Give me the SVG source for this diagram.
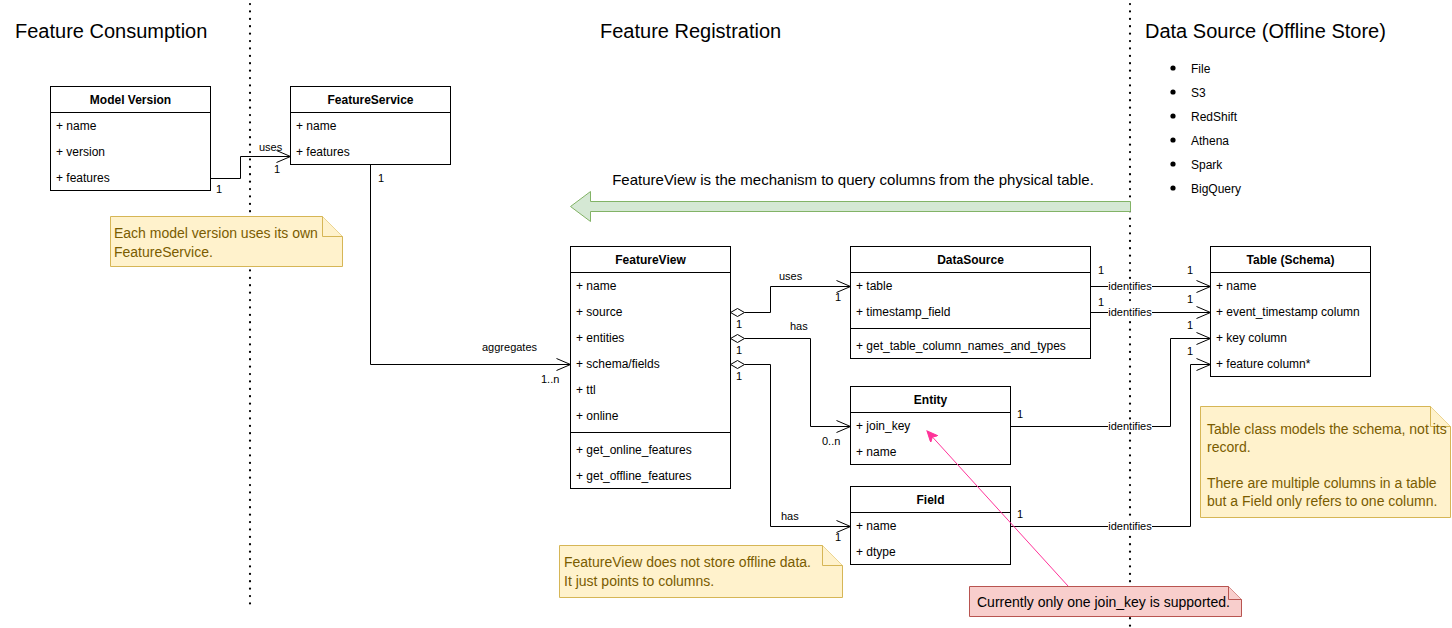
<svg xmlns="http://www.w3.org/2000/svg" width="1452" height="628" viewBox="0 0 1452 628">
<defs>
<style>
text{font-family:"Liberation Sans",Helvetica,Arial,sans-serif;fill:#000}
.title{font-size:20px}
.hdr{font-size:12px;font-weight:bold;text-anchor:middle}
.row{font-size:12px}
.lbl{font-size:11px}
.mid{text-anchor:middle}
.box{fill:#fff;stroke:#000;stroke-width:1}
.sep{stroke:#000;stroke-width:1}
.conn{fill:none;stroke:#000;stroke-width:1}
.dot{fill:none;stroke:#000;stroke-width:2.2;stroke-dasharray:0.1 7.3;stroke-linecap:round}
.note{fill:#fff2cc;stroke:#d6b656;stroke-width:1}
.notetxt{font-size:14px;fill:#7a5c00}
.rnote{fill:#f8cecc;stroke:#b85450;stroke-width:1}
.dia{fill:#fff;stroke:#000;stroke-width:1}
.lblbg{fill:#fff}
</style>
<marker id="open" markerUnits="userSpaceOnUse" markerWidth="16" markerHeight="14" refX="15" refY="7" orient="auto">
<path d="M1,1 L15,7 L1,13" fill="none" stroke="#000" stroke-width="1"/>
</marker>
<marker id="pink" markerUnits="userSpaceOnUse" markerWidth="12" markerHeight="10" refX="11" refY="5" orient="auto">
<path d="M0,0 L11,5 L0,10 L3,5 Z" fill="#ff3399" stroke="#ff3399" stroke-width="1"/>
</marker>
</defs>
<rect width="1452" height="628" fill="#fff"/>

<g id="titles">
<text class="title" x="15" y="38">Feature Consumption</text>
<text class="title" x="600" y="38">Feature Registration</text>
<text class="title" x="1145" y="38">Data Source (Offline Store)</text>
</g>

<g id="dividers">
<line class="dot" x1="250" y1="4" x2="250" y2="608"/>
<line class="dot" x1="1130" y1="4" x2="1130" y2="626"/>
</g>

<g id="sources-list">
<circle cx="1173" cy="68" r="2.6"/><text class="row" x="1191" y="73">File</text>
<circle cx="1173" cy="92" r="2.6"/><text class="row" x="1191" y="97">S3</text>
<circle cx="1173" cy="116" r="2.6"/><text class="row" x="1191" y="121">RedShift</text>
<circle cx="1173" cy="140" r="2.6"/><text class="row" x="1191" y="145">Athena</text>
<circle cx="1173" cy="164" r="2.6"/><text class="row" x="1191" y="169">Spark</text>
<circle cx="1173" cy="188" r="2.6"/><text class="row" x="1191" y="193">BigQuery</text>
</g>

<g id="mechanism-arrow">
<path d="M1130.5,201.5 L590.5,201.5 L590.5,191.5 L570.5,206.5 L590.5,221.5 L590.5,211.5 L1130.5,211.5 Z" fill="#d5e8d4" stroke="#82b366" stroke-width="1"/>
<text x="853" y="185" font-size="15" text-anchor="middle">FeatureView is the mechanism to query columns from the physical table.</text>
</g>

<g id="connectors">
<path class="conn" d="M210.5,178.5 H240.5 V156.5 H290.5" marker-end="url(#open)"/>
<text class="lbl" x="259" y="151">uses</text>
<text class="lbl" x="274" y="173">1</text>
<text class="lbl" x="216" y="193">1</text>
<path class="conn" d="M370.5,164 V364.5 H570.5" marker-end="url(#open)"/>
<text class="lbl" x="378" y="182">1</text>
<text class="lbl" x="482" y="351">aggregates</text>
<text class="lbl" x="541" y="383">1..n</text>
<path class="conn" d="M744.5,312.5 H770.5 V286.5 H850.5" marker-end="url(#open)"/>
<polygon class="dia" points="730.5,312.5 737.5,308.5 744.5,312.5 737.5,316.5"/>
<text class="lbl" x="779" y="280">uses</text>
<text class="lbl" x="835" y="301">1</text>
<text class="lbl" x="736" y="328">1</text>
<path class="conn" d="M744.5,338.5 H810.5 V426.5 H850.5" marker-end="url(#open)"/>
<polygon class="dia" points="730.5,338.5 737.5,334.5 744.5,338.5 737.5,342.5"/>
<text class="lbl" x="790" y="330">has</text>
<text class="lbl" x="736" y="354">1</text>
<text class="lbl" x="822" y="445">0..n</text>
<path class="conn" d="M744.5,364.5 H770.5 V526.5 H850.5" marker-end="url(#open)"/>
<polygon class="dia" points="730.5,364.5 737.5,360.5 744.5,364.5 737.5,368.5"/>
<text class="lbl" x="736" y="380">1</text>
<text class="lbl" x="781" y="520">has</text>
<text class="lbl" x="835" y="541">1</text>
<path class="conn" d="M1090.5,286.5 H1210.5" marker-end="url(#open)"/>
<rect class="lblbg" x="1108" y="280" width="44" height="12"/>
<text class="lbl mid" x="1130" y="290">identifies</text>
<text class="lbl" x="1098" y="274">1</text>
<text class="lbl" x="1187" y="274">1</text>
<path class="conn" d="M1090.5,312.5 H1210.5" marker-end="url(#open)"/>
<rect class="lblbg" x="1108" y="306" width="44" height="12"/>
<text class="lbl mid" x="1130" y="316">identifies</text>
<text class="lbl" x="1098" y="306">1</text>
<text class="lbl" x="1187" y="303">1</text>
<path class="conn" d="M1010.5,426.5 H1170.5 V338.5 H1210.5" marker-end="url(#open)"/>
<rect class="lblbg" x="1108" y="420" width="44" height="12"/>
<text class="lbl mid" x="1130" y="430">identifies</text>
<text class="lbl" x="1017" y="418">1</text>
<text class="lbl" x="1187" y="329">1</text>
<path class="conn" d="M1010.5,526.5 H1190.5 V364.5 H1210.5" marker-end="url(#open)"/>
<rect class="lblbg" x="1108" y="520" width="44" height="12"/>
<text class="lbl mid" x="1130" y="530">identifies</text>
<text class="lbl" x="1017" y="518">1</text>
<text class="lbl" x="1187" y="355">1</text>
</g>

<g id="model-version">
<rect class="box" x="50.5" y="86.5" width="160" height="104"/>
<line class="sep" x1="50.5" y1="112.5" x2="210.5" y2="112.5"/>
<text class="hdr" x="130.5" y="104">Model Version</text>
<text class="row" x="56" y="130">+ name</text>
<text class="row" x="56" y="156">+ version</text>
<text class="row" x="56" y="182">+ features</text>
</g>

<g id="feature-service">
<rect class="box" x="290.5" y="86.5" width="160" height="78"/>
<line class="sep" x1="290.5" y1="112.5" x2="450.5" y2="112.5"/>
<text class="hdr" x="370.5" y="104">FeatureService</text>
<text class="row" x="296" y="130">+ name</text>
<text class="row" x="296" y="156">+ features</text>
</g>

<g id="feature-view">
<rect class="box" x="570.5" y="246.5" width="160" height="242"/>
<line class="sep" x1="570.5" y1="272.5" x2="730.5" y2="272.5"/>
<line class="sep" x1="570.5" y1="432.5" x2="730.5" y2="432.5"/>
<text class="hdr" x="650.5" y="264">FeatureView</text>
<text class="row" x="576" y="290">+ name</text>
<text class="row" x="576" y="316">+ source</text>
<text class="row" x="576" y="342">+ entities</text>
<text class="row" x="576" y="368">+ schema/fields</text>
<text class="row" x="576" y="394">+ ttl</text>
<text class="row" x="576" y="420">+ online</text>
<text class="row" x="576" y="454">+ get_online_features</text>
<text class="row" x="576" y="480">+ get_offline_features</text>
</g>

<g id="data-source">
<rect class="box" x="850.5" y="246.5" width="240" height="112"/>
<line class="sep" x1="850.5" y1="272.5" x2="1090.5" y2="272.5"/>
<line class="sep" x1="850.5" y1="328.5" x2="1090.5" y2="328.5"/>
<text class="hdr" x="970.5" y="264">DataSource</text>
<text class="row" x="856" y="290">+ table</text>
<text class="row" x="856" y="316">+ timestamp_field</text>
<text class="row" x="856" y="350">+ get_table_column_names_and_types</text>
</g>

<g id="entity">
<rect class="box" x="850.5" y="386.5" width="160" height="78"/>
<line class="sep" x1="850.5" y1="412.5" x2="1010.5" y2="412.5"/>
<text class="hdr" x="930.5" y="404">Entity</text>
<text class="row" x="856" y="430">+ join_key</text>
<text class="row" x="856" y="456">+ name</text>
</g>

<g id="field">
<rect class="box" x="850.5" y="486.5" width="160" height="78"/>
<line class="sep" x1="850.5" y1="512.5" x2="1010.5" y2="512.5"/>
<text class="hdr" x="930.5" y="504">Field</text>
<text class="row" x="856" y="530">+ name</text>
<text class="row" x="856" y="556">+ dtype</text>
</g>

<g id="table-schema">
<rect class="box" x="1210.5" y="246.5" width="160" height="130"/>
<line class="sep" x1="1210.5" y1="272.5" x2="1370.5" y2="272.5"/>
<text class="hdr" x="1290.5" y="264">Table (Schema)</text>
<text class="row" x="1216" y="290">+ name</text>
<text class="row" x="1216" y="316">+ event_timestamp column</text>
<text class="row" x="1216" y="342">+ key column</text>
<text class="row" x="1216" y="368">+ feature column*</text>
</g>

<g id="note-model-version">
<path class="note" d="M110.5,216.5 H322.5 L342.5,236.5 V266.5 H110.5 Z"/>
<path class="note" d="M322.5,216.5 V236.5 H342.5" fill="none"/>
<text class="notetxt" x="114" y="238">Each model version uses its own</text>
<text class="notetxt" x="114" y="257">FeatureService.</text>
</g>

<g id="note-feature-view">
<path class="note" d="M559.5,545.5 H822.5 L842.5,565.5 V597.5 H559.5 Z"/>
<path class="note" d="M822.5,545.5 V565.5 H842.5" fill="none"/>
<text class="notetxt" x="564" y="567">FeatureView does not store offline data.</text>
<text class="notetxt" x="564" y="586">It just points to columns.</text>
</g>

<g id="note-table">
<path class="note" d="M1200.5,406.5 H1430.5 L1450.5,426.5 V517.5 H1200.5 Z"/>
<path class="note" d="M1430.5,406.5 V426.5 H1450.5" fill="none"/>
<text class="notetxt" x="1207" y="434" font-size="13.8">Table class models the schema, not its</text>
<text class="notetxt" x="1207" y="452" font-size="13.8">record.</text>
<text class="notetxt" x="1207" y="488" font-size="13.8">There are multiple columns in a table</text>
<text class="notetxt" x="1207" y="506" font-size="13.8">but a Field only refers to one column.</text>
</g>

<g id="note-join-key">
<path class="rnote" d="M969.5,586.5 H1228.5 L1241.5,599.5 V616.5 H969.5 Z"/>
<path class="rnote" d="M1228.5,586.5 V599.5 H1241.5" fill="none"/>
<text x="977" y="607" font-size="14">Currently only one join_key is supported.</text>
</g>

<g id="note-pointer">
<line x1="1068" y1="586" x2="927" y2="431" stroke="#ff3399" stroke-width="1" marker-end="url(#pink)"/>
</g>
</svg>
